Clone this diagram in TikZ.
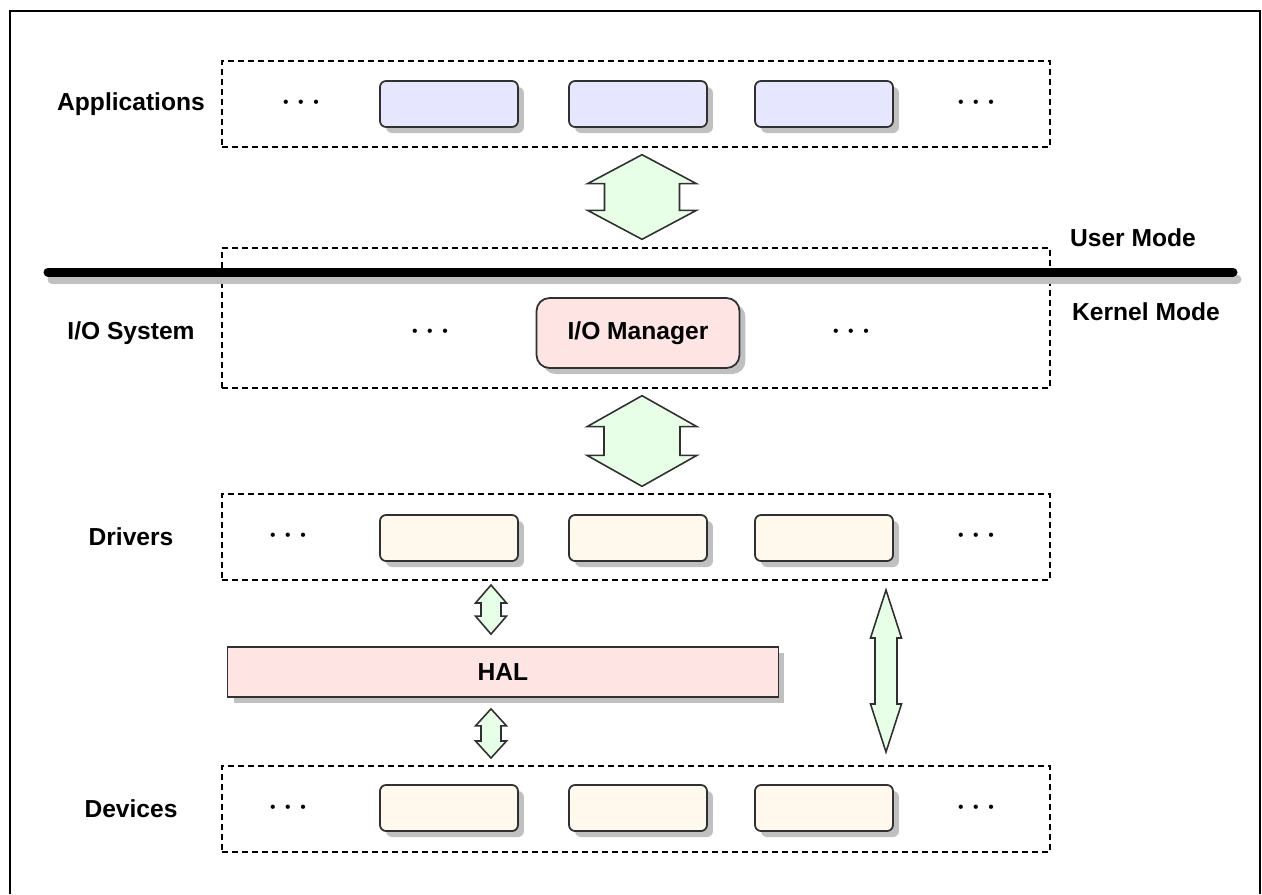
\documentclass[tikz,border=0pt]{standalone}
\usepackage{fontspec}
\setmainfont{Liberation Sans}
\usetikzlibrary{shadows,calc}
\definecolor{appfill}{HTML}{E6E6FF}
\definecolor{drvfill}{HTML}{FFF8EC}
\definecolor{mgrfill}{HTML}{FFE4E4}
\definecolor{arrfill}{HTML}{E6FFE6}
\definecolor{shadowgray}{HTML}{C0C0C0}
\definecolor{edge}{HTML}{303030}
\newcommand{\updown}[5]{%
  \draw[twoway] (#1) -- ($(#1)+(#3,#5)$) -- ($(#1)+(#4,#5)$) -- ($(#2)+(#4,-#5)$)
    -- ($(#2)+(#3,-#5)$) -- (#2) -- ($(#2)+(-#3,-#5)$) -- ($(#2)+(-#4,-#5)$)
    -- ($(#1)+(-#4,#5)$) -- ($(#1)+(-#3,#5)$) -- cycle;}
\begin{document}
\begin{tikzpicture}[
		x=0.02cm, y=-0.02cm,
		font=\fontsize{14}{16}\selectfont\bfseries,
		layer/.style={draw, dash pattern=on 0.12cm off 0.08cm, line width=0.8pt,
				minimum width=16.56cm, inner sep=0pt},
		boxshadow/.style={drop shadow={shadow xshift=0.12cm, shadow yshift=-0.12cm,
						fill=shadowgray, opacity=1}},
		slot/.style={rectangle, rounded corners=0.12cm,
				draw=edge, line width=1pt, minimum width=2.76cm, minimum height=0.92cm,
				inner sep=0pt, boxshadow},
		appslot/.style={slot, fill=appfill},
		drvslot/.style={slot, fill=drvfill},
		twoway/.style={draw=edge, line width=0.9pt, fill=arrfill, line join=miter},
		dots/.style={font=\fontsize{9}{10}\selectfont}
	]
	\useasboundingbox (0,0) rectangle (1262,894);
	\draw[line width=1.1pt] (10,894) -- (10,11) -- (1260,11) -- (1260,894);

	\node[layer, minimum height=1.72cm] (apps) at (636,104) {};
	\node[layer, minimum height=2.8cm] (iosys) at (636,318) {};
	\node[layer, minimum height=1.72cm] (drivers) at (636,537) {};
	\node[layer, minimum height=1.72cm] (devices) at (636,809) {};

	\node (lapps) at (131,104) {Applications};
	\node (lio) at (131,333) {I/O System};
	\node (ldrv) at (131,537) {Drivers};
	\node (ldev) at (131,809) {Devices};
	\node (user) at (1133,238) {User Mode};
	\node (kernel) at (1146,312) {Kernel Mode};

	\node[dots] (ad1) at (301,104) {\textbullet\hspace{5.5pt}\textbullet\hspace{5.5pt}\textbullet};
	\node[dots] (ad2) at (976,104) {\textbullet\hspace{5.5pt}\textbullet\hspace{5.5pt}\textbullet};
	\node[dots] (id1) at (430,333) {\textbullet\hspace{5.5pt}\textbullet\hspace{5.5pt}\textbullet};
	\node[dots] (id2) at (851,333) {\textbullet\hspace{5.5pt}\textbullet\hspace{5.5pt}\textbullet};
	\node[dots] (dd1) at (288,537) {\textbullet\hspace{5.5pt}\textbullet\hspace{5.5pt}\textbullet};
	\node[dots] (dd2) at (976,537) {\textbullet\hspace{5.5pt}\textbullet\hspace{5.5pt}\textbullet};
	\node[dots] (vd1) at (288,809) {\textbullet\hspace{5.5pt}\textbullet\hspace{5.5pt}\textbullet};
	\node[dots] (vd2) at (976,809) {\textbullet\hspace{5.5pt}\textbullet\hspace{5.5pt}\textbullet};

	\node[appslot] (app1) at (449,104) {};
	\node[appslot] (app2) at (638,104) {};
	\node[appslot] (app3) at (824,104) {};
	\node[drvslot] (drv1) at (449,538) {};
	\node[drvslot] (drv2) at (638,538) {};
	\node[drvslot] (drv3) at (824,538) {};
	\node[drvslot] (dev1) at (449,808) {};
	\node[drvslot] (dev2) at (638,808) {};
	\node[drvslot] (dev3) at (824,808) {};

	\node[draw=edge, line width=1pt, fill=mgrfill, rounded corners=0.26cm,
		minimum width=4.06cm, minimum height=1.4cm, boxshadow] (iomgr) at (638,333) {I/O Manager};
	\node[draw=edge, line width=1pt, fill=mgrfill, minimum width=11.02cm,
		minimum height=1cm, boxshadow] (hal) at (503,672) {HAL};

	\coordinate (splitL) at (48,272);
	\coordinate (splitR) at (1233,272);
	\draw[shadowgray, line width=0.18cm, line cap=round] ([shift={(4,7)}]splitL) -- ([shift={(4,7)}]splitR);
	\draw[line width=0.18cm, line cap=round] (splitL) -- (splitR);

	\coordinate (t1) at ($(apps.south)+(6,7)$);
	\coordinate (b1) at ($(iosys.north)+(6,-8)$);
	\coordinate (t2) at ($(iosys.south)+(6,7)$);
	\coordinate (b2) at ($(drivers.north)+(6,-7)$);
	\coordinate (t3) at (491,585);
	\coordinate (b3) at ($(hal.north)+(-12,-12)$);
	\coordinate (t4) at ($(hal.south)+(-12,11)$);
	\coordinate (b4) at (491,758);
	\coordinate (t5) at (886,590);
	\coordinate (b5) at (886,752);
	\updown{t1}{b1}{54.5}{37.5}{29}
	\updown{t2}{b2}{55}{38}{31}
	\updown{t3}{b3}{15.5}{10}{18}
	\updown{t4}{b4}{15.5}{10}{17}
	\updown{t5}{b5}{15.5}{11}{48}
\end{tikzpicture}
\end{document}
